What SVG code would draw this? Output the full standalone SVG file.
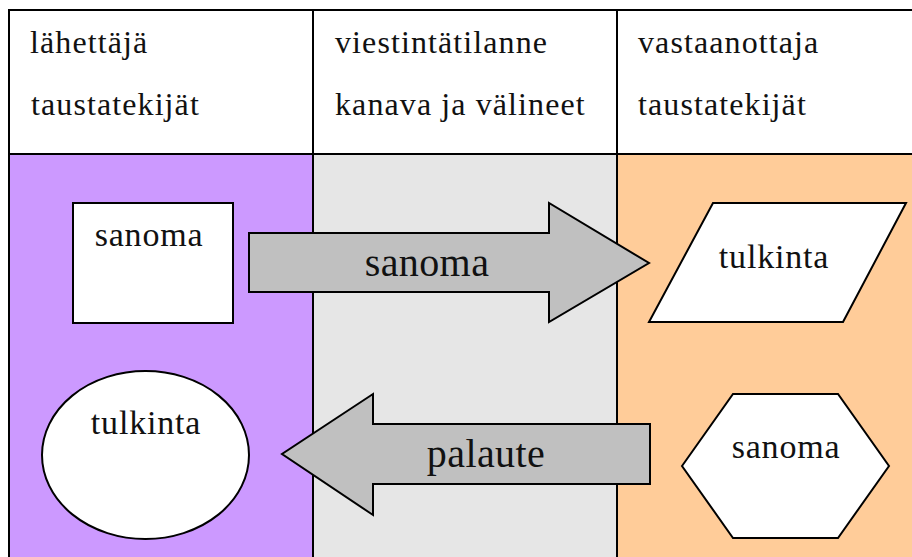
<svg xmlns="http://www.w3.org/2000/svg" width="912" height="557" viewBox="0 0 912 557">
  <style>
    .line { stroke: #000; stroke-width: 2; fill: none; }
    .shape { fill: #fff; stroke: #000; stroke-width: 2; stroke-linejoin: miter; }
    .arrow { fill: #c0c0c0; stroke: #000; stroke-width: 2; stroke-linejoin: miter; }
    text { font-family: 'Liberation Serif', 'Times New Roman', serif; fill: #111; }
    .head { font-size: 32px; letter-spacing: 1.1px; }
    .lbl { font-size: 34px; letter-spacing: 0.8px; text-anchor: middle; }
    .big { font-size: 40px; letter-spacing: 0.4px; text-anchor: middle; }
  </style>

  <rect x="0" y="0" width="912" height="557" fill="#fff"/>

  <!-- column backgrounds -->
  <g id="columns">
    <rect x="9" y="154" width="304" height="410" fill="#cc99ff"/>
    <rect x="313" y="154" width="304" height="410" fill="#e6e6e6"/>
    <rect x="617" y="154" width="300" height="410" fill="#ffcc99"/>
  </g>

  <!-- table grid -->
  <g id="grid">
    <line class="line" x1="8" y1="10" x2="920" y2="10"/>
    <line class="line" x1="8" y1="154" x2="920" y2="154"/>
    <line class="line" x1="9" y1="9" x2="9" y2="570"/>
    <line class="line" x1="313" y1="9" x2="313" y2="570"/>
    <line class="line" x1="617" y1="9" x2="617" y2="570"/>
  </g>

  <!-- column headings -->
  <g id="heading-sender">
    <text class="head" x="30" y="53">lähettäjä</text>
    <text class="head" x="31" y="115">taustatekijät</text>
  </g>
  <g id="heading-channel">
    <text class="head" x="335" y="53">viestintätilanne</text>
    <text class="head" x="335" y="115">kanava ja välineet</text>
  </g>
  <g id="heading-receiver">
    <text class="head" x="638" y="53">vastaanottaja</text>
    <text class="head" x="638" y="115">taustatekijät</text>
  </g>

  <!-- sender side -->
  <g id="sender-message">
    <rect class="shape" x="73" y="203" width="160" height="120"/>
    <text class="lbl" x="149" y="246">sanoma</text>
  </g>
  <g id="sender-interpretation">
    <ellipse class="shape" cx="145.5" cy="455" rx="103.5" ry="84"/>
    <text class="lbl" x="146" y="434">tulkinta</text>
  </g>

  <!-- receiver side -->
  <g id="receiver-interpretation">
    <polygon class="shape" points="713,203 906,203 843,322 649,322"/>
    <text class="lbl" x="774" y="268">tulkinta</text>
  </g>
  <g id="receiver-message">
    <polygon class="shape" points="682,466 733,394 838,394 889,466 838,538 733,538"/>
    <text class="lbl" x="786" y="458">sanoma</text>
  </g>

  <!-- block arrows between the parties -->
  <g id="connectors">
    <g id="arrow-message">
      <polygon class="arrow" points="249,233 549,233 549,203 649,263 549,322 549,292 249,292"/>
      <text class="big" x="427" y="276">sanoma</text>
    </g>
    <g id="arrow-feedback">
      <polygon class="arrow" points="650,424 373,424 373,394 282,454 373,515 373,484 650,484"/>
      <text class="big" x="486" y="467">palaute</text>
    </g>
  </g>
</svg>
